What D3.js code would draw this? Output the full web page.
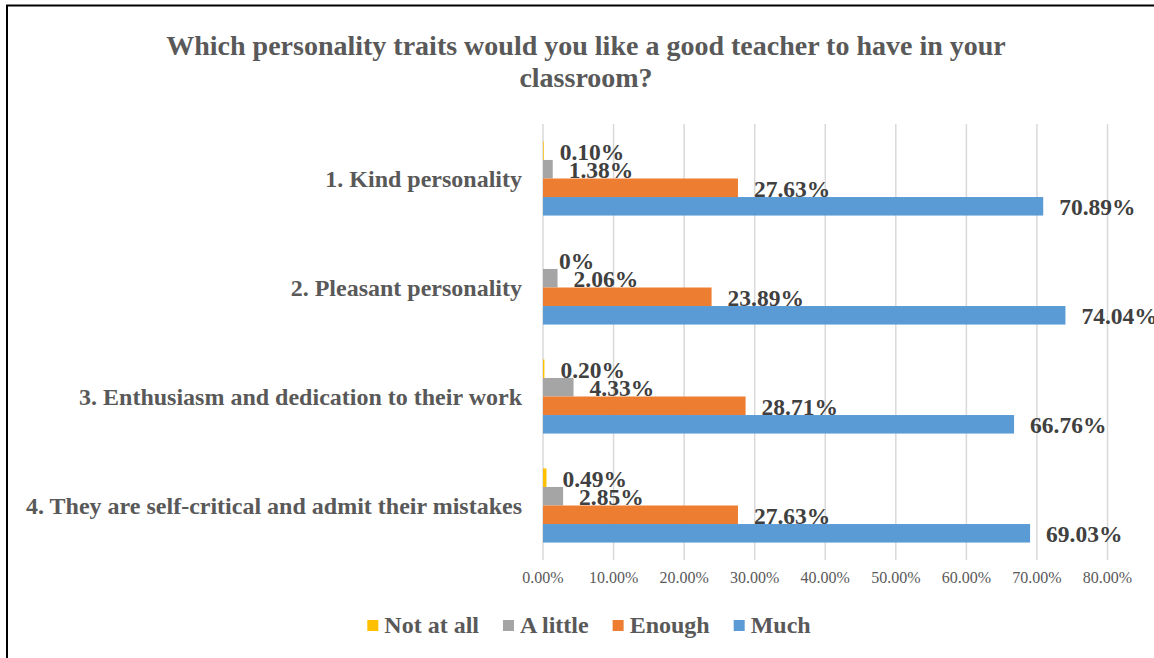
<!DOCTYPE html>
<html>
<head>
<meta charset="utf-8">
<script src="https://cdn.jsdelivr.net/npm/d3@7"></script>
<style>
  html, body { margin: 0; padding: 0; background: #fff; }
  svg { display: block; font-family: "Liberation Serif", "Times New Roman", serif; }
</style>
</head>
<body>
<svg id="chart" width="1154" height="658"></svg>
<script>
// chart data
const categories = [
    '1. Kind personality',
    '2. Pleasant personality',
    '3. Enthusiasm and dedication to their work',
    '4. They are self-critical and admit their mistakes'
];
const seriesNames = ['Not at all', 'A little', 'Enough', 'Much'];
const notAtAll = [0.10, 0, 0.20, 0.49];
const aLittle  = [1.38, 2.06, 4.33, 2.85];
const enough   = [27.63, 23.89, 28.71, 27.63];
const much     = [70.89, 74.04, 66.76, 69.03];
const valueLabels = [
    ['0.10%', '1.38%', '27.63%', '70.89%'],
    ['0%', '2.06%', '23.89%', '74.04%'],
    ['0.20%', '4.33%', '28.71%', '66.76%'],
    ['0.49%', '2.85%', '27.63%', '69.03%']
];
const xTicks = [0, 10, 20, 30, 40, 50, 60, 70, 80];
const titleLines = [
    'Which personality traits would you like a good teacher to have in your',
    'classroom?'
];

const colors = {
    'Not at all': '#FFC000',
    'A little': '#A5A5A5',
    'Enough': '#ED7D31',
    'Much': '#5B9BD5'
};

const series = [notAtAll, aLittle, enough, much];

const svg = d3.select('#chart');

// outer frame (right and bottom edges fall outside the picture)
svg.append('rect')
    .attr('x', 7).attr('y', 5.5)
    .attr('width', 1160).attr('height', 670)
    .attr('fill', 'none')
    .attr('stroke', '#000')
    .attr('stroke-width', 2);

// title
svg.append('g').selectAll('text')
    .data(titleLines)
    .join('text')
    .attr('x', 586)
    .attr('y', (d, i) => 55 + i * 32)
    .attr('text-anchor', 'middle')
    .attr('font-size', 28)
    .attr('font-weight', 'bold')
    .attr('fill', '#595959')
    .text(d => d);

const x = d3.scaleLinear().domain([0, 80]).range([543, 1107.5]);
const y = d3.scaleBand().domain(categories).range([124, 560])
    .paddingInner(0.32).paddingOuter(0.16);
const ySub = d3.scaleBand().domain(seriesNames).range([0, y.bandwidth()]);

// gridlines
svg.append('g').selectAll('line')
    .data(xTicks)
    .join('line')
    .attr('x1', d => x(d)).attr('x2', d => x(d))
    .attr('y1', 124).attr('y2', 560)
    .attr('stroke', '#d9d9d9')
    .attr('stroke-width', 1.5);

// tick labels
svg.append('g').selectAll('text')
    .data(xTicks)
    .join('text')
    .attr('x', d => x(d))
    .attr('y', 583)
    .attr('text-anchor', 'middle')
    .attr('font-size', 16)
    .attr('fill', '#595959')
    .text(d => d3.format('.2f')(d) + '%');

// category labels
svg.append('g').selectAll('text')
    .data(categories)
    .join('text')
    .attr('x', 522)
    .attr('y', d => y(d) + y.bandwidth() / 2)
    .attr('dy', '0.35em')
    .attr('text-anchor', 'end')
    .attr('font-size', 24)
    .attr('font-weight', 'bold')
    .attr('fill', '#595959')
    .text(d => d);

// bars and value labels
const groups = svg.append('g').selectAll('g')
    .data(categories)
    .join('g')
    .attr('transform', d => `translate(0,${y(d)})`);

groups.each(function (cat, ci) {
    const g = d3.select(this);
    const rows = seriesNames.map((name, si) => ({
        name: name,
        value: series[si][ci],
        label: valueLabels[ci][si]
    }));

    g.selectAll('rect')
        .data(rows)
        .join('rect')
        .attr('x', x(0))
        .attr('y', d => ySub(d.name))
        .attr('width', d => x(d.value) - x(0))
        .attr('height', ySub.bandwidth())
        .attr('fill', d => colors[d.name]);

    g.selectAll('text')
        .data(rows)
        .join('text')
        .attr('x', d => x(d.value) + 16)
        .attr('y', d => ySub(d.name) + ySub.bandwidth() / 2)
        .attr('dy', '0.38em')
        .attr('font-size', 23.5)
        .attr('font-weight', 'bold')
        .attr('fill', '#404040')
        .text(d => d.label);
});

// legend
const legend = svg.append('g');
const items = legend.selectAll('g')
    .data(seriesNames)
    .join('g');

items.append('rect')
    .attr('width', 11).attr('height', 11)
    .attr('y', -13)
    .attr('fill', d => colors[d]);

items.append('text')
    .attr('x', 17)
    .attr('font-size', 24)
    .attr('font-weight', 'bold')
    .attr('fill', '#595959')
    .text(d => d);

let offset = 0;
const widths = [];
items.each(function () {
    const w = 17 + d3.select(this).select('text').node().getComputedTextLength();
    widths.push(w);
});
const gap = 24;
const total = d3.sum(widths) + gap * (widths.length - 1);
items.attr('transform', (d, i) => {
    const t = `translate(${offset},0)`;
    offset += widths[i] + gap;
    return t;
});
legend.attr('transform', `translate(${589 - total / 2},633)`);
</script>
</body>
</html>
